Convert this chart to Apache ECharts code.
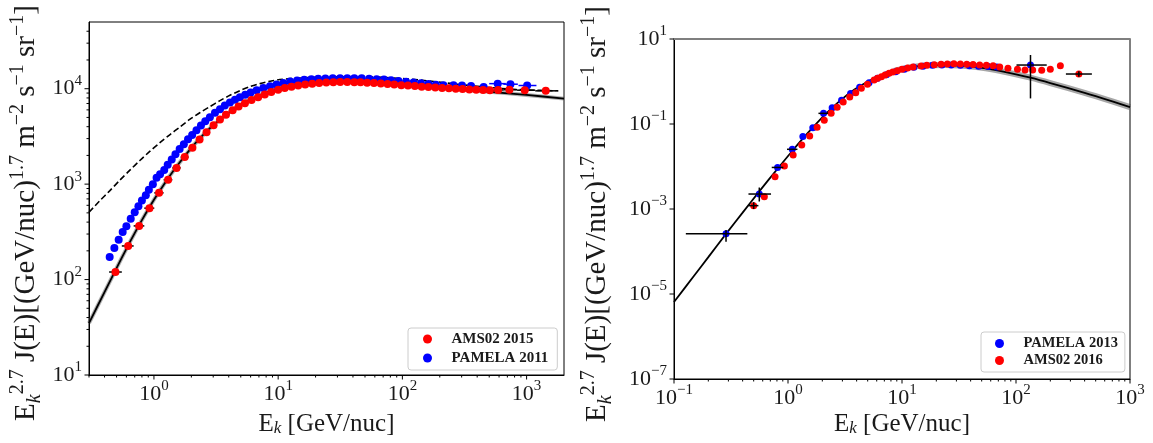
<!DOCTYPE html>
<html><head><meta charset="utf-8">
<script src="https://cdn.jsdelivr.net/npm/echarts@6/dist/echarts.min.js"></script>
<style>html,body{margin:0;padding:0;background:#fff}#c{width:1153px;height:443px}</style>
</head><body><div id="c"></div>
<script>
// ---------------- DATA ----------------
// Left panel
const leftAmsE = [0.49,0.62,0.76,0.92,1.10,1.30,1.52,1.77,2.04,2.33,2.65,3.02,3.40,3.80,4.3,4.8,5.4,6.1,6.9,7.8,8.8,10.0,11.3,12.8,14.5,16.5,18.8,21.4,24.4,27.8,31.6,36,41,46,52,59,67,76,86,98,111,126,143,162,184,209,237,269,305,346,393,446,506,590,727,966,1426];
const leftAmsF = [120,225,365,560,810,1110,1480,1920,2400,2940,3500,4150,4750,5350,5950,6500,7050,7600,8150,8700,9250,9750,10150,10500,10800,11050,11250,11450,11600,11700,11750,11750,11700,11650,11550,11450,11350,11200,11050,10900,10800,10650,10500,10400,10300,10200,10100,10000,9900,9800,9750,9700,9650,9700,9750,9650,9500];
const leftPamE = [0.44,0.48,0.52,0.56,0.60,0.65,0.70,0.75,0.80,0.86,0.91,0.98,1.05,1.12,1.21,1.29,1.39,1.49,1.61,1.74,1.88,2.03,2.20,2.39,2.59,2.82,3.10,3.40,3.72,4.09,4.49,4.92,5.43,6.01,6.71,7.59,8.59,9.7,11.0,12.5,14.2,16.2,18.5,21,24,27.5,31.5,36,41,47,54,62,71,81,93,107,123,141,162,186,214,258,302,357,451,585,741,1010];
const leftPamF = [172,214,262,315,361,435,507,586,673,764,871,998,1165,1270,1410,1600,1810,2060,2330,2620,2950,3280,3680,4110,4550,5030,5600,6100,6650,7150,7650,8150,8650,9150,9650,10150,10600,11050,11500,11900,12200,12400,12550,12700,12800,12850,12900,12900,12880,12850,12750,12600,12450,12250,12050,11800,11600,11400,11200,11000,10850,10900,10800,10700,10450,11300,11150,10800];
const leftPamErrE  = [585,741,1010];
const leftPamErrLo = [500,650,860];
const leftPamErrHi = [680,850,1200];
const leftModelE = [0.3,0.4,0.5,0.6,0.7,0.8,1.0,1.2,1.5,2.0,2.5,3.0,4.0,5.0,6.0,8.0,10,13,17,22,30,40,60,100,150,200,300,500,1000,2000];
const leftModelF = [35,74,132,210,307,420,686,988,1492,2398,3293,4137,5597,6797,7750,9130,10070,10930,11530,11830,11900,11770,11440,10930,10490,10190,9780,9290,8610,7870];
const leftDashE = [0.3,0.364,0.44,0.53,0.64,0.77,0.925,1.11,1.34,1.61,1.94,2.34,2.82,3.4,4.09,4.92,5.93,7.14,8.6,10.3,15,25,45,80,150,300,600,1000,1800];
const leftDashF = [507,663,850,1095,1400,1770,2200,2700,3290,3950,4760,5600,6490,7500,8530,9550,10520,11300,11960,12470,12950,13270,13350,13000,12200,11000,10100,9700,9500];

// Right panel
const rightPamE = [0.286,0.56,0.81,1.09,1.35,1.65,2.05,2.44,2.95,3.54,4.25,5.14,6.1,7.3,8.8,10.5,12.7,15.3,18.5,22.4,27,32.5,39,47,57,68,134];
const rightPamF = [2.6e-4,2.25e-3,9.5e-3,0.0254,0.051,0.082,0.178,0.242,0.36,0.52,0.73,0.94,1.19,1.45,1.7,1.95,2.15,2.3,2.4,2.45,2.45,2.4,2.35,2.3,2.25,2.2,2.44];
const rightAmsE = [0.50,0.62,0.77,0.93,1.11,1.32,1.55,1.80,2.08,2.39,2.70,3.05,3.48,3.93,4.40,4.98,5.69,6.1,6.6,7.1,7.7,8.3,9.1,10.0,11.2,12.5,14.7,16.5,19.2,22,25,28.5,32.5,37,42,48,55,63,72,85,103,120,140,168,200,245,356];
const rightAmsF = [1.2e-3,1.95e-3,5.75e-3,0.0103,0.0186,0.032,0.052,0.0835,0.122,0.18,0.247,0.33,0.43,0.545,0.69,0.86,1.08,1.19,1.30,1.43,1.56,1.68,1.80,1.95,2.08,2.2,2.32,2.4,2.49,2.55,2.58,2.6,2.58,2.55,2.5,2.45,2.4,2.35,2.2,2.04,1.94,1.87,1.87,1.83,1.94,2.36,1.50];
const rightErrE  = [0.286,0.56,0.81,1.09,2.05,134,0.50,356];
const rightErrF  = [2.6e-4,2.25e-3,9.5e-3,0.0254,0.178,2.44,1.2e-3,1.50];
const rightErrElo= [0.127,0.45,0.72,0.98,1.85,101,0.45,274];
const rightErrEhi= [0.44,0.71,0.91,1.21,2.25,186,0.55,463];
const rightErrFlo= [1.7e-4,1.5e-3,null,null,null,0.40,1.0e-3,1.3];
const rightErrFhi= [3.2e-4,3.2e-3,null,null,null,4.2,1.45e-3,1.75];
const rightModelE = [0.1,0.15,0.2,0.286,0.4,0.56,0.8,1.09,1.5,2.05,2.8,3.8,5.0,6.5,8.5,11,14,18,24,32,45,65,100,134,200,400,700,1000];
const rightModelF = [6.5e-6,2.69e-5,7.36e-5,2.6e-4,8.2e-4,2.6e-3,8.5e-3,0.0232,0.0624,0.154,0.336,0.64,0.99,1.375,1.77,2.09,2.30,2.42,2.44,2.37,2.18,1.88,1.48,1.23,0.92,0.54,0.34,0.25];

// Axis ranges / labels
const leftX = [0.3, 2000], leftY = [10, 5e4];
const rightX = [0.1, 1000], rightY = [1e-7, 10];
const xTitle = 'E{sub|k} [GeV/nuc]';
const yTitle = 'E{ysub|k}{ysup|2.7} J(E)[(GeV/nuc){ysup|1.7} m{ysup|−2} s{ysup|−1} sr{ysup|−1}]';
const legendLeft = ['AMS02 2015', 'PAMELA 2011'];
const legendRight = ['PAMELA 2013', 'AMS02 2016'];

// ---------------- HELPERS ----------------
const FONT = 'Liberation Serif';
const TXT = '#1a1a1a';
const zip = (a, b) => a.map((v, i) => [v, b[i]]);
function decades(lo, hi, step) {
  const major = [], minor = [];
  for (let e = Math.floor(Math.log10(lo)); e <= Math.ceil(Math.log10(hi)); e++) {
    const d = Math.pow(10, e);
    if (d >= lo * 0.9999 && d <= hi * 1.0001 && (step === 1 || ((e % 2) + 2) % 2 === 1)) major.push(d);
    if (step === 1) for (let k = 2; k <= 9; k++) { const v = k * d; if (v > lo && v < hi) minor.push(v); }
  }
  return { major, minor };
}
function labelFmt(onlyOdd) {
  return function (v) {
    const e = Math.log10(v), r = Math.round(e);
    if (Math.abs(e - r) > 1e-6) return '';
    if (onlyOdd && ((r % 2) + 2) % 2 !== 1) return '';
    return '10{sup|' + (r < 0 ? '−' + (-r) : r) + '}';
  };
}
function tickSeries(xi, yi, dir, vals, other, len) {
  return {
    type: 'custom', xAxisIndex: xi, yAxisIndex: yi, silent: true, z: 6,
    data: vals.map(v => dir === 'x' ? [v, other] : [other, v]),
    renderItem: (p, api) => {
      const c = api.coord([api.value(0), api.value(1)]);
      return { type: 'line',
        shape: dir === 'x' ? { x1: c[0], y1: c[1], x2: c[0], y2: c[1] + len } : { x1: c[0], y1: c[1], x2: c[0] - len, y2: c[1] },
        style: { stroke: '#000', lineWidth: 1 } };
    }
  };
}
function errSeries(xi, yi, rows, color, z) {
  return {
    type: 'custom', xAxisIndex: xi, yAxisIndex: yi, silent: true, z: z,
    data: rows,
    renderItem: (p, api) => {
      const x = api.value(0), y = api.value(1);
      const children = [];
      const a = api.coord([api.value(2), y]), b = api.coord([api.value(3), y]);
      children.push({ type: 'line', shape: { x1: a[0], y1: a[1], x2: b[0], y2: b[1] }, style: { stroke: color, lineWidth: 1.5 } });
      const ylo = api.value(4), yhi = api.value(5);
      if (ylo > 0 && yhi > 0) {
        const c = api.coord([x, ylo]), d = api.coord([x, yhi]);
        children.push({ type: 'line', shape: { x1: c[0], y1: c[1], x2: d[0], y2: d[1] }, style: { stroke: color, lineWidth: 1.5 } });
      }
      return { type: 'group', children };
    }
  };
}
// red bin edges from geometric midpoints between neighbouring points
const leftAmsRows = leftAmsE.map((e, i) => {
  const prev = i > 0 ? leftAmsE[i - 1] : e * e / leftAmsE[1];
  const next = i < leftAmsE.length - 1 ? leftAmsE[i + 1] : e * e / leftAmsE[i - 1];
  return [e, leftAmsF[i], Math.sqrt(prev * e), Math.sqrt(e * next), 0, 0];
});
const leftPamRows = leftPamErrE.map((e, i) => [e, leftPamF[leftPamE.indexOf(e)], leftPamErrLo[i], leftPamErrHi[i], 0, 0]);
const rightRows = rightErrE.map((e, i) => [e, rightErrF[i], rightErrElo[i], rightErrEhi[i], rightErrFlo[i] || 0, rightErrFhi[i] || 0]);
const rightBand = zip(rightModelE, rightModelF).filter(d => d[0] >= 8);

const supRich = { sup: { fontSize: 15, lineHeight: 14, verticalAlign: 'top', fontFamily: FONT, color: TXT } };
const titleRich = {
  sup: { fontSize: 17, lineHeight: 17, verticalAlign: 'top', fontFamily: FONT, color: TXT },
  sub: { fontSize: 17, lineHeight: 17, verticalAlign: 'bottom', fontStyle: 'italic', fontFamily: FONT, color: TXT },
  ysup: { fontSize: 20, lineHeight: 20, verticalAlign: 'top', fontFamily: FONT, color: TXT },
  ysub: { fontSize: 20, lineHeight: 20, verticalAlign: 'bottom', fontStyle: 'italic', fontFamily: FONT, color: TXT }
};
function logAxis(grid, range, pos, onlyOdd, extra) {
  return Object.assign({
    type: 'log', logBase: 10, gridIndex: grid, min: range[0], max: range[1], position: pos,
    axisLine: { show: true, lineStyle: { color: '#000', width: 1 } },
    axisTick: { show: false }, minorTick: { show: false },
    splitLine: { show: false },
    axisLabel: { formatter: labelFmt(onlyOdd), interval: 0, fontFamily: FONT, fontSize: 22, lineHeight: 30,
      color: TXT, rich: supRich, margin: pos === 'bottom' ? 4 : 7, showMinLabel: true, showMaxLabel: true }
  }, extra || {});
}

const lt = { x: decades(leftX[0], leftX[1], 1), y: decades(leftY[0], leftY[1], 1) };
const rt = { x: decades(rightX[0], rightX[1], 1), y: decades(rightY[0], rightY[1], 2) };

const chart = echarts.init(document.getElementById('c'), null, { renderer: 'canvas' });
chart.setOption({
  animation: false,
  backgroundColor: '#fff',
  grid: [
    { left: 89, top: 22, width: 475, height: 353, show: true, borderColor: '#000', borderWidth: 1, containLabel: false, outerBoundsMode: 'none' },
    { left: 674, top: 39, width: 456, height: 340, show: true, borderColor: '#000', borderWidth: 1, containLabel: false, outerBoundsMode: 'none' }
  ],
  xAxis: [
    logAxis(0, leftX, 'bottom', false, { name: xTitle, nameLocation: 'middle', nameGap: 37, nameMoveOverlap: false,
      nameTextStyle: { fontFamily: FONT, fontSize: 25, color: TXT, rich: titleRich } }),
    logAxis(1, rightX, 'bottom', false, { name: xTitle, nameLocation: 'middle', nameGap: 33, nameMoveOverlap: false,
      nameTextStyle: { fontFamily: FONT, fontSize: 25, color: TXT, rich: titleRich } }),
    { type: 'log', gridIndex: 1, min: rightX[0], max: rightX[1], position: 'top',
      axisLine: { show: true, lineStyle: { color: '#7f7f7f', width: 2 } },
      axisTick: { show: false }, axisLabel: { show: false }, splitLine: { show: false } }
  ],
  yAxis: [
    logAxis(0, leftY, 'left', false, { name: yTitle, nameLocation: 'middle', nameRotate: 90, nameGap: 44,
      nameTextStyle: { fontFamily: FONT, fontSize: 29, lineHeight: 37, color: TXT, rich: titleRich, padding: [0, 29, 0, 0] } }),
    logAxis(1, rightY, 'left', true, { name: yTitle, nameLocation: 'middle', nameRotate: 90, nameGap: 58,
      nameTextStyle: { fontFamily: FONT, fontSize: 29, lineHeight: 37, color: TXT, rich: titleRich, padding: [0, 10, 0, 0] } })
  ],
  legend: [
    { data: legendLeft, orient: 'vertical', left: 408, top: 328, icon: 'circle', itemWidth: 38, itemHeight: 9, itemGap: 3,
      padding: [3, 9, 4, 15], backgroundColor: 'rgba(255,255,255,0.85)', borderColor: '#cccccc', borderWidth: 1, borderRadius: 3,
      textStyle: { fontFamily: FONT, fontWeight: 'bold', fontSize: 15, lineHeight: 16, color: TXT } },
    { data: legendRight, orient: 'vertical', left: 981, top: 332, icon: 'circle', itemWidth: 38, itemHeight: 9, itemGap: 2,
      padding: [4, 7, 4, 14], backgroundColor: 'rgba(255,255,255,0.85)', borderColor: '#cccccc', borderWidth: 1, borderRadius: 3,
      textStyle: { fontFamily: FONT, fontWeight: 'bold', fontSize: 14.5, lineHeight: 15, color: TXT } }
  ],
  series: [
    // ----- left panel -----
    { type: 'line', xAxisIndex: 0, yAxisIndex: 0, data: zip(leftModelE, leftModelF), showSymbol: false, smooth: 0.3,
      lineStyle: { color: 'rgba(80,80,80,0.45)', width: 4 }, silent: true, z: 1 },
    { type: 'line', xAxisIndex: 0, yAxisIndex: 0, data: zip(leftModelE, leftModelF), showSymbol: false, smooth: 0.3,
      lineStyle: { color: '#000', width: 1.8 }, silent: true, z: 2 },
    { type: 'line', xAxisIndex: 0, yAxisIndex: 0, data: zip(leftDashE, leftDashF), showSymbol: false, smooth: 0.3,
      lineStyle: { color: '#000', width: 1.6, type: [6, 3] }, silent: true, z: 2 },
    errSeries(0, 0, leftAmsRows, '#000', 3),
    errSeries(0, 0, leftPamRows, '#0000ff', 3),
    { name: 'PAMELA 2011', type: 'scatter', xAxisIndex: 0, yAxisIndex: 0, data: zip(leftPamE, leftPamF), symbolSize: 8,
      itemStyle: { color: '#0000ff', opacity: 1 }, z: 4 },
    { name: 'AMS02 2015', type: 'scatter', xAxisIndex: 0, yAxisIndex: 0, data: zip(leftAmsE, leftAmsF), symbolSize: 8,
      itemStyle: { color: '#ff0000', opacity: 1 }, z: 5 },
    tickSeries(0, 0, 'x', lt.x.major, leftY[0], 4.5),
    tickSeries(0, 0, 'x', lt.x.minor, leftY[0], 2.5),
    tickSeries(0, 0, 'y', lt.y.major, leftX[0], 4.5),
    tickSeries(0, 0, 'y', lt.y.minor, leftX[0], 2.5),
    // ----- right panel -----
    { type: 'line', xAxisIndex: 1, yAxisIndex: 1, data: rightBand, showSymbol: false, smooth: 0.3,
      lineStyle: { color: 'rgba(80,80,80,0.5)', width: 6 }, silent: true, z: 1 },
    { type: 'line', xAxisIndex: 1, yAxisIndex: 1, data: zip(rightModelE, rightModelF), showSymbol: false, smooth: 0.3,
      lineStyle: { color: '#000', width: 1.8 }, silent: true, z: 2 },
    { name: 'PAMELA 2013', type: 'scatter', xAxisIndex: 1, yAxisIndex: 1, data: zip(rightPamE, rightPamF), symbolSize: 7,
      itemStyle: { color: '#0000ff', opacity: 1 }, z: 4 },
    { name: 'AMS02 2016', type: 'scatter', xAxisIndex: 1, yAxisIndex: 1, data: zip(rightAmsE, rightAmsF), symbolSize: 7,
      itemStyle: { color: '#ff0000', opacity: 1 }, z: 5 },
    errSeries(1, 1, rightRows, '#000', 6),
    tickSeries(1, 1, 'x', rt.x.major, rightY[0], 4.5),
    tickSeries(1, 1, 'x', rt.x.minor, rightY[0], 2.5),
    tickSeries(1, 1, 'y', rt.y.major, rightX[0], 4.5)
  ]
});
</script></body></html>
